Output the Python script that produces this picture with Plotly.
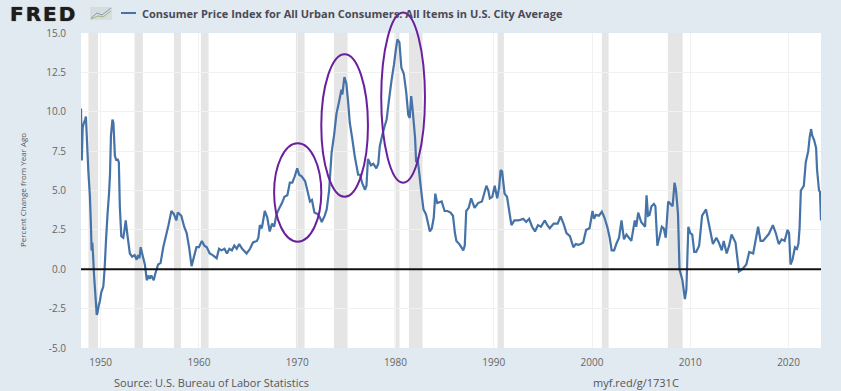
import plotly.graph_objects as go

years = [1948.0,1948.08,1948.17,1948.3,1948.42,1948.5,1948.62,1948.75,1948.9,1949.0,1949.08,1949.15,1949.22,1949.33,1949.45,1949.6,1949.67,1949.8,1949.93,1950.05,1950.27,1950.4,1950.55,1950.7,1950.85,1950.95,1951.05,1951.2,1951.3,1951.45,1951.6,1951.72,1951.85,1951.95,1952.1,1952.3,1952.45,1952.55,1952.7,1952.97,1953.2,1953.45,1953.66,1953.8,1953.95,1954.07,1954.3,1954.5,1954.7,1954.85,1955.0,1955.15,1955.4,1955.55,1955.85,1956.1,1956.37,1956.6,1956.9,1957.2,1957.45,1957.7,1957.85,1958.2,1958.5,1958.75,1959.0,1959.25,1959.5,1959.75,1960.0,1960.3,1960.55,1960.8,1961.1,1961.4,1961.8,1962.05,1962.3,1962.6,1962.85,1963.1,1963.35,1963.6,1963.85,1964.1,1964.4,1964.85,1965.2,1965.5,1965.9,1966.05,1966.2,1966.4,1966.7,1966.95,1967.2,1967.45,1967.65,1967.9,1968.2,1968.45,1968.7,1969.0,1969.25,1969.5,1969.75,1970.0,1970.2,1970.45,1970.8,1971.0,1971.3,1971.5,1971.75,1972.1,1972.3,1972.5,1972.8,1973.0,1973.25,1973.5,1973.75,1974.0,1974.25,1974.5,1974.6,1974.8,1975.0,1975.2,1975.35,1975.6,1975.85,1976.2,1976.4,1976.6,1976.9,1977.05,1977.2,1977.5,1977.75,1978.05,1978.25,1978.4,1978.65,1978.9,1979.1,1979.35,1979.6,1979.85,1980.05,1980.2,1980.4,1980.6,1980.85,1981.1,1981.3,1981.45,1981.6,1981.75,1982.0,1982.1,1982.2,1982.35,1982.65,1982.85,1983.1,1983.5,1983.7,1983.9,1984.05,1984.25,1984.7,1985.0,1985.3,1985.6,1985.85,1986.05,1986.2,1986.5,1986.9,1987.05,1987.2,1987.45,1987.7,1988.05,1988.4,1988.8,1989.25,1989.45,1989.6,1989.85,1990.1,1990.35,1990.55,1990.7,1990.85,1991.1,1991.35,1991.8,1992.1,1992.5,1993.0,1993.3,1993.6,1993.9,1994.2,1994.5,1994.8,1995.2,1995.45,1995.7,1996.1,1996.5,1996.8,1997.1,1997.4,1997.75,1998.1,1998.35,1998.6,1998.85,1999.1,1999.4,1999.75,2000.05,2000.2,2000.4,2000.7,2001.0,2001.25,2001.55,2001.8,2002.0,2002.25,2002.5,2002.75,2003.0,2003.25,2003.5,2004.0,2004.35,2004.5,2004.7,2005.0,2005.4,2005.55,2005.7,2005.85,2006.05,2006.3,2006.45,2006.65,2006.85,2007.1,2007.3,2007.5,2007.75,2008.2,2008.4,2008.55,2008.75,2008.9,2009.2,2009.45,2009.6,2009.8,2010.0,2010.2,2010.4,2010.6,2010.9,2011.2,2011.6,2011.85,2012.3,2012.65,2012.9,2013.2,2013.4,2013.7,2013.95,2014.2,2014.6,2014.95,2015.3,2015.7,2016.0,2016.4,2016.9,2017.15,2017.4,2018.0,2018.4,2018.7,2019.0,2019.3,2019.6,2019.9,2020.05,2020.2,2020.4,2020.65,2020.85,2021.0,2021.12,2021.25,2021.55,2021.75,2022.0,2022.15,2022.3,2022.4,2022.6,2022.8,2022.9,2023.1,2023.2,2023.3]
values = [10.2,6.9,9.0,9.3,9.5,9.7,8.0,6.2,4.7,3.0,1.2,1.7,1.0,-0.4,-1.5,-2.9,-2.8,-2.3,-2.0,-1.5,-1.1,0.0,1.9,3.5,4.8,6.0,8.5,9.5,9.3,7.2,6.9,7.0,6.8,4.0,2.1,2.0,2.6,3.1,2.3,1.0,0.8,0.9,0.6,0.9,0.7,1.4,0.8,0.3,-0.7,-0.4,-0.6,-0.4,-0.7,-0.3,0.3,0.4,1.4,2.0,2.8,3.7,3.5,3.1,3.6,3.4,2.7,2.3,1.4,0.2,0.8,1.4,1.4,1.8,1.5,1.4,1.0,0.9,0.7,1.3,1.2,1.3,1.0,1.3,1.2,1.5,1.3,1.6,1.3,1.0,1.3,1.7,1.8,2.0,2.8,2.6,3.7,3.3,2.4,2.9,2.7,3.5,3.9,4.2,4.6,4.7,5.5,5.5,5.9,6.4,6.0,5.9,5.6,5.1,4.3,4.4,3.6,3.5,3.3,3.0,3.4,3.8,5.0,7.4,8.5,9.9,10.6,11.4,11.1,12.2,11.8,10.5,9.3,8.3,7.2,6.0,6.0,5.5,5.05,5.3,7.0,6.6,6.7,6.4,6.7,7.8,8.5,9.1,9.5,10.8,12.0,13.0,14.0,14.6,14.4,12.8,12.4,11.2,9.8,9.6,11.0,10.1,8.3,6.8,7.1,6.5,4.8,3.8,3.5,2.4,2.6,3.3,4.8,4.2,4.3,3.7,3.7,3.6,3.4,2.3,1.8,1.6,1.2,1.5,3.7,3.9,4.5,3.9,4.2,4.3,5.3,5.0,4.5,4.6,5.3,4.5,5.2,6.3,6.2,4.8,4.6,2.8,3.1,3.1,3.2,3.0,3.2,2.7,2.4,2.8,2.7,3.1,2.8,2.6,2.9,2.9,3.35,2.9,2.3,2.1,1.4,1.6,1.55,1.6,1.7,2.5,2.6,3.7,3.2,3.45,3.4,3.65,3.3,2.7,2.0,1.2,1.2,1.65,2.0,3.1,1.9,2.2,1.8,3.1,2.7,3.6,3.0,2.7,4.7,3.4,3.45,4.0,4.15,4.0,1.5,2.0,2.7,2.6,2.0,4.3,4.0,5.5,5.0,3.5,0.0,-0.7,-1.9,-1.3,2.7,2.3,2.2,1.1,1.1,1.5,3.4,3.8,3.0,1.6,2.0,1.7,1.2,1.8,1.0,1.5,2.2,1.7,-0.15,0.0,0.3,1.1,1.0,2.7,1.8,1.8,2.25,2.8,2.3,1.6,1.9,1.8,2.5,2.3,0.3,0.6,1.4,1.3,1.6,2.6,5.0,5.3,6.8,7.5,8.4,8.9,8.5,8.2,7.7,6.3,5.0,4.9,3.1]

recession_starts = [1948.76,1953.45,1957.46,1960.2,1969.87,1973.74,1979.91,1981.37,1990.39,2001.0,2007.72]
recession_ends = [1949.73,1954.3,1958.17,1960.98,1970.75,1975.12,1980.41,1982.75,1991.03,2001.69,2009.22]

y_ticks = [-5,-2.5,0,2.5,5,7.5,10,12.5,15]
y_labels = ["-5.0","-2.5","0.0","2.5","5.0","7.5","10.0","12.5","15.0"]
x_ticks = [1950,1960,1970,1980,1990,2000,2010,2020]

series_name = "Consumer Price Index for All Urban Consumers: All Items in U.S. City Average"
source_text = "Source: U.S. Bureau of Labor Statistics"
link_text = "myf.red/g/1731C"
y_title = "Percent Change from Year Ago"

# circled episodes: left, right, bottom, top in axis units
ring_left = [1967.65,1972.45,1978.55]
ring_right = [1972.45,1977.2,1983.0]
ring_bottom = [1.75,4.6,5.5]
ring_top = [8.0,13.65,16.3]

X0, X1 = 1948.0, 2023.3
W, H = 841, 391
L, R, T, B = 81, 20, 33, 43
BG = "#e1e9f1"
FONT = "Open Sans"

def fx(p):
    return (p - L) / (W - L - R)
def fy(p):
    return (H - B - p) / (H - T - B)

fig = go.Figure()
fig.add_trace(go.Scatter(
    x=years, y=values, mode="lines", cliponaxis=False, showlegend=False,
    line=dict(color="#4572a7", width=2.2, simplify=False), hoverinfo="skip"))

for a, b in zip(recession_starts, recession_ends):
    fig.add_vrect(x0=a, x1=b, fillcolor="#e5e5e5", line_width=0, layer="below")

fig.add_hline(y=0, line=dict(color="#111111", width=2), layer="above")

for a, b, c, d in zip(ring_left, ring_right, ring_bottom, ring_top):
    fig.add_shape(type="circle", xref="paper", yref="paper",
                  x0=(a - X0) / (X1 - X0), x1=(b - X0) / (X1 - X0),
                  y0=(c + 5) / 20, y1=(d + 5) / 20,
                  line=dict(color="#6a1f9c", width=2), layer="above")

# FRED logo mark and legend key
fig.add_shape(type="rect", xref="paper", yref="paper",
              x0=fx(90), x1=fx(112), y0=fy(20), y1=fy(7),
              fillcolor="#d5d8da", line_width=0, opacity=0.8)
fig.add_shape(type="path", xref="paper", yref="paper",
              path=f"M {fx(91)} {fy(18)} L {fx(97)} {fy(13)} L {fx(102)} {fy(15)} L {fx(111)} {fy(8)}",
              line=dict(color="#7d9fb8", width=1))
fig.add_shape(type="path", xref="paper", yref="paper",
              path=f"M {fx(91)} {fy(19)} L {fx(98)} {fy(16)} L {fx(103)} {fy(17)} L {fx(111)} {fy(11)}",
              line=dict(color="#9db87d", width=1))
fig.add_shape(type="line", xref="paper", yref="paper",
              x0=fx(121), x1=fx(136), y0=fy(13), y1=fy(13),
              line=dict(color="#4572a7", width=2))

def note(text, x, y, size, color, family=FONT, angle=0, shadow=None, xanchor="left"):
    font = dict(family=family, size=size, color=color)
    if shadow:
        font["shadow"] = shadow
    fig.add_annotation(text=text, xref="paper", yref="paper", x=fx(x), y=fy(y),
                       xanchor=xanchor, yanchor="middle", showarrow=False,
                       textangle=angle, font=font)

note("<b>F&#8202;R&#8202;E&#8202;D</b>", 8, 14, 20, "#1d1d1d", "DejaVu Sans", shadow="0 0 1px #1d1d1d")
note("<b>" + series_name + "</b>", 140, 13.5, 11, "#4a4a55")
note(source_text, 112, 382, 11, "#555555")
note(link_text, 591, 382, 11, "#555555")
note(y_title, 22, 190, 8, "#555555", angle=-90, xanchor="center")

fig.update_layout(
    width=W, height=H, autosize=False,
    margin=dict(l=L, r=R, t=T, b=B, pad=0),
    paper_bgcolor=BG, plot_bgcolor="#ffffff",
    showlegend=False,
    xaxis=dict(range=[X0, X1], tickvals=x_ticks, ticks="outside", ticklen=5,
               tickcolor="rgba(0,0,0,0)", showline=False, zeroline=False,
               showgrid=True, gridcolor="#f1f1f1", gridwidth=1,
               tickfont=dict(family=FONT, size=10, color="#666666")),
    yaxis=dict(range=[-5, 15], tickvals=y_ticks, ticktext=y_labels, ticks="outside", ticklen=12,
               tickcolor="rgba(0,0,0,0)", showline=False,
               zeroline=False, showgrid=True, gridcolor="#f1f1f1", gridwidth=1,
               tickfont=dict(family=FONT, size=10, color="#666666")),
)
post = ("document.documentElement.style.margin='0';document.body.style.margin='0';"
        "document.body.style.overflow='hidden';"
        "var g=document.getElementById('{plot_id}');g.style.position='absolute';g.style.left='0';g.style.top='0';")
fig.write_html("out.html", post_script=post, config={"displayModeBar": False})
